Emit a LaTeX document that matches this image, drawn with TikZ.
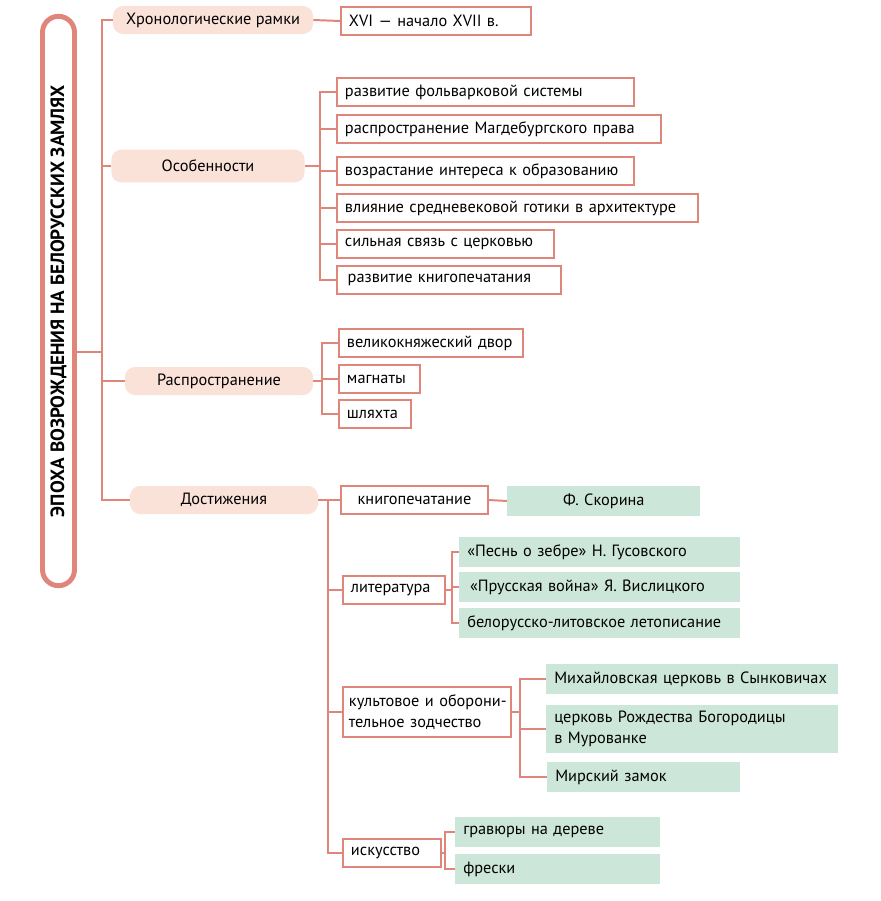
\documentclass[tikz,border=0pt]{standalone}
\usepackage{fontspec}
\setmainfont{PT Sans}
\usetikzlibrary{positioning, calc}
\definecolor{linered}{HTML}{E0857A}
\definecolor{topicpink}{HTML}{FAE2D9}
\definecolor{factgreen}{HTML}{CDE6DA}
\tikzstyle{topic} = [rounded corners=0.25cm, fill=topicpink, minimum height=0.7cm, text centered]
\tikzstyle{item} = [draw=linered, line width=1.4pt, fill=white, anchor=west, minimum height=0.7cm, inner xsep=0.2cm, align=left]
\tikzstyle{fact} = [fill=factgreen, anchor=west, minimum height=0.75cm, inner xsep=0.2cm, align=left]
\tikzstyle{link} = [draw=linered, line width=1.4pt]

\begin{document}
\begin{tikzpicture}[x=0.025cm, y=-0.025cm, font=\fontsize{11.6}{15}\selectfont]
    \useasboundingbox (0,0) rectangle (881,901);

    % Title
    \node (era) [draw=linered, line width=3.5pt, rounded corners=0.4cm, fill=white, minimum width=0.8cm, minimum height=14.23cm] at (58.5,301) {\rotatebox{90}{\fontsize{13.6}{15}\selectfont\bfseries ЭПОХА ВОЗРОЖДЕНИЯ НА БЕЛОРУССКИХ ЗАМЛЯХ}};

    % Topics
    \node (chron) [topic, minimum width=5cm] at (213,20) {Хронологические рамки};
    \node (feat) [topic, minimum width=4.83cm, minimum height=0.82cm] at (208,166) {Особенности};
    \node (spread) [topic, minimum width=4.7cm] at (219,381) {Распространение};
    \node (ach) [topic, minimum width=4.7cm] at (224,500) {Достижения};

    % Trunk
    \coordinate (bus) at (102,0);
    \draw [link] (era.east |- 0,352) -- (bus |- 0,352);
    \draw [link] (chron.west) -| (ach.west -| bus) -- (ach.west);
    \draw [link] (feat.west) -- (feat.west -| bus);
    \draw [link] (spread.west) -- (spread.west -| bus);

    % Chronology
    \node (period) [item, text width=4.35cm] at (340,21) {XVI — начало XVII в.};
    \draw [link] (chron.east) -- (period.west);

    % Features
    \node (folw) [item, text width=7.02cm] at (336,92) {развитие фольварковой системы};
    \node (magd) [item, text width=7.7cm] at (336,129) {распространение Магдебургского права};
    \node (edu) [item, text width=7.02cm] at (336,171) {возрастание интереса к образованию};
    \node (goth) [item, text width=8.62cm] at (336,208) {влияние средневековой готики в архитектуре};
    \node (church) [item, text width=5.02cm] at (336,244) {сильная связь с церковью};
    \node (books) [item, text width=5.2cm] at (336,280) {\,развитие книгопечатания};
    \coordinate (featbus) at (320,0);
    \draw [link] (feat.east) -- (feat.east -| featbus);
    \draw [link] (folw.west) -| (books.west -| featbus) -- (books.west);
    \draw [link] (magd.west) -- (magd.west -| featbus);
    \draw [link] (edu.west) -- (edu.west -| featbus);
    \draw [link] (goth.west) -- (goth.west -| featbus);
    \draw [link] (church.west) -- (church.west -| featbus);

    % Spread
    \node (court) [item, text width=4.2cm] at (338,343) {великокняжеский двор};
    \node (magn) [item, text width=1.625cm] at (338,379) {магнаты};
    \node (gentry) [item, text width=1.4cm] at (338,414) {шляхта};
    \coordinate (spreadbus) at (322,0);
    \draw [link] (spread.east) -- (spread.east -| spreadbus);
    \draw [link] (court.west) -| (gentry.west -| spreadbus) -- (gentry.west);
    \draw [link] (magn.west) -- (magn.west -| spreadbus);

    % Achievements
    \node (print) [item, text width=3.275cm, align=center] at (340,500) {книгопечатание};
    \node (lit) [item, text width=2.15cm] at (342,590) {литература};
    \node (arch) [item, inner xsep=0.15cm, text width=3.9cm, minimum height=1.25cm] at (342,712) {\mbox{культовое и оборони-}\\\mbox{тельное зодчество}};
    \node (art) [item, text width=2.05cm] at (342,853) {искусство};
    \coordinate (achbus) at (328,0);
    \draw [link] (ach.east) -- (print.west);
    \draw [link] (print.west -| achbus) |- (art.west);
    \draw [link] (lit.west -| achbus) -- (lit.west);
    \draw [link] (arch.west -| achbus) -- (arch.west);

    % Printing
    \node (skor) [fact, text width=4.425cm, align=center] at (507,501) {Ф. Скорина};
    \draw [link] (print.east) -- (skor.west);

    % Literature
    \node (poem) [fact, text width=6.625cm] at (459,552) {«Песнь о зебре» Н. Гусовского};
    \node (war) [fact, text width=6.625cm] at (459,587) {\,«Прусская война» Я. Вислицкого};
    \node (chron2) [fact, text width=6.625cm] at (459,623) {белорусско-литовское летописание};
    \coordinate (litbus) at (452,0);
    \draw [link] (lit.east) -- (lit.east -| litbus);
    \draw [link] (poem.west) -| (chron2.west -| litbus) -- (chron2.west);
    \draw [link] (war.west) -- (war.west -| litbus);

    % Architecture
    \node (synk) [fact, text width=6.9cm] at (546,679) {Михайловская церковь в Сынковичах};
    \node (mur) [fact, text width=6.9cm, minimum height=1.22cm] at (546,729) {церковь Рождества Богородицы\\в Мурованке};
    \node (mir) [fact, text width=4.425cm] at (547,777) {Мирский замок};
    \coordinate (archbus) at (520,0);
    \draw [link] (arch.east) -- (arch.east -| archbus);
    \draw [link] (synk.west) -| (mir.west -| archbus) -- (mir.west);
    \draw [link] (mur.west) -- (mur.west -| archbus);

    % Art
    \node (engr) [fact, text width=4.725cm] at (455,832) {гравюры на дереве};
    \node (fresco) [fact, text width=4.725cm] at (455,869) {фрески};
    \coordinate (artbus) at (445,0);
    \draw [link] (art.east) -- (art.east -| artbus);
    \draw [link] (engr.west) -| (fresco.west -| artbus) -- (fresco.west);
\end{tikzpicture}
\end{document}
